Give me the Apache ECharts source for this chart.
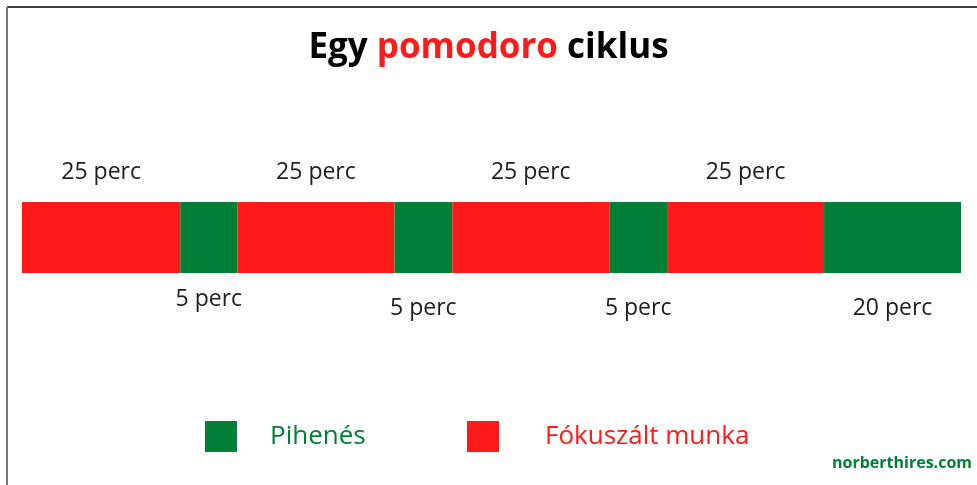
<!DOCTYPE html>
<html>
<head>
<meta charset="utf-8">
<script src="https://cdn.jsdelivr.net/npm/echarts@6/dist/echarts.min.js"></script>
<style>
html,body{margin:0;padding:0;background:#fff;}
#chart{width:977px;height:485px;}
</style>
</head>
<body>
<div id="chart"></div>
<script>
// Segment data, in the order they appear along the cycle
const segmentTypes = ['Fókuszált munka', 'Pihenés', 'Fókuszált munka', 'Pihenés', 'Fókuszált munka', 'Pihenés', 'Fókuszált munka', 'Pihenés'];
const segmentMinutes = [25, 5, 25, 5, 25, 5, 25, 20];
// Drawn length of each segment (not proportional to minutes)
const segmentLengths = [25.2, 9.1, 25, 9.2, 25, 9.2, 25, 21.8];
const legendNames = ['Pihenés', 'Fókuszált munka'];

const RED = '#fe1a1a';
const GREEN = '#027f37';
const colorOf = { 'Fókuszált munka': RED, 'Pihenés': GREEN };
const FONT = '"Open Sans", sans-serif';

const series = segmentTypes.map((type, i) => {
  const isWork = type === 'Fókuszált munka';
  const belowDistance = i === 1 ? 15 : 24;
  return {
    name: type,
    type: 'bar',
    stack: 'cycle',
    barWidth: 71,
    data: [segmentLengths[i]],
    itemStyle: { color: colorOf[type] },
    label: {
      show: true,
      position: isWork ? 'top' : 'bottom',
      distance: isWork ? 18 : belowDistance,
      formatter: () => segmentMinutes[i] + ' perc',
      fontFamily: FONT,
      fontSize: 23,
      lineHeight: 23,
      color: '#1e1e1e'
    },
    emphasis: { disabled: true },
    silent: true
  };
});

const chart = echarts.init(document.getElementById('chart'), null, { renderer: 'canvas' });
chart.setOption({
  animation: false,
  backgroundColor: '#fff',
  title: {
    text: '{a|Egy }{b|pomodoro}{a| ciklus}',
    left: 'center',
    top: 26,
    textStyle: {
      rich: {
        a: { fontFamily: FONT, fontWeight: 'bold', fontSize: 35, color: '#000' },
        b: { fontFamily: FONT, fontWeight: 'bold', fontSize: 35, color: RED }
      }
    }
  },
  legend: [
    {
      data: [{ name: legendNames[0], textStyle: { color: GREEN } }],
      left: 205, top: 421, padding: 0,
      icon: 'rect', itemWidth: 32, itemHeight: 31,
      textStyle: { fontFamily: FONT, fontSize: 26, padding: [0, 0, 0, 28] },
      selectedMode: false
    },
    {
      data: [{ name: legendNames[1], textStyle: { color: RED } }],
      left: 467, top: 421, padding: 0,
      icon: 'rect', itemWidth: 32, itemHeight: 31,
      textStyle: { fontFamily: FONT, fontSize: 26, padding: [0, 0, 0, 41] },
      selectedMode: false
    }
  ],
  grid: { left: 22, right: 16, top: 202, height: 71, containLabel: false },
  xAxis: {
    type: 'value', min: 0, max: segmentLengths.reduce((a, b) => a + b, 0),
    show: false
  },
  yAxis: { type: 'category', data: ['ciklus'], show: false },
  series: series,
  graphic: [
    { type: 'line', shape: { x1: 7, y1: 7, x2: 977, y2: 7 }, style: { stroke: '#000', lineWidth: 1.5 }, silent: true },
    { type: 'line', shape: { x1: 7, y1: 7, x2: 7, y2: 485 }, style: { stroke: '#777', lineWidth: 2 }, silent: true },
    {
      type: 'text', right: 5, top: 455,
      style: { text: 'norberthires.com', fill: GREEN, font: 'bold 16px "Open Sans", sans-serif' },
      silent: true
    }
  ]
});
</script>
</body>
</html>
